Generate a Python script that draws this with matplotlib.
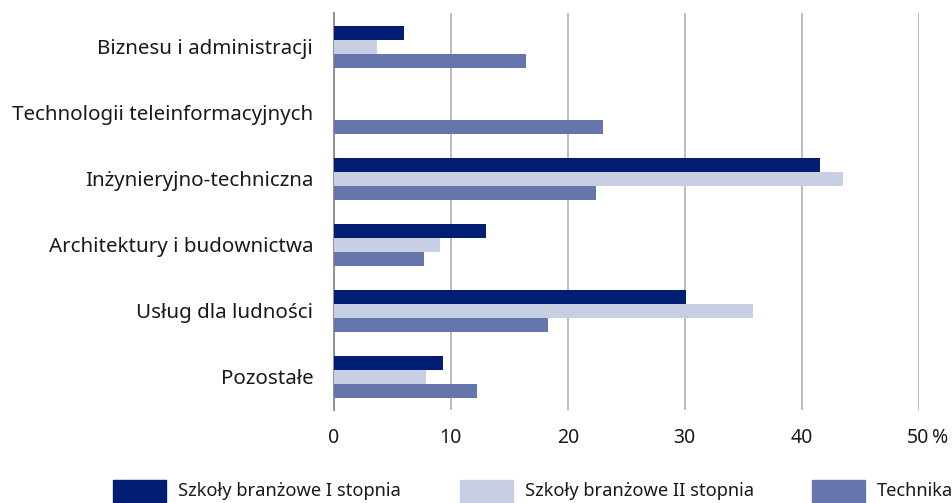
import numpy as np
from matplotlib import pyplot
from matplotlib.patches import Rectangle

pyplot.rcParams["font.family"] = ["Noto Sans", "DejaVu Sans"]

categories = [
    "Biznesu i administracji",
    "Technologii teleinformacyjnych",
    "Inżynieryjno-techniczna",
    "Architektury i budownictwa",
    "Usług dla ludności",
    "Pozostałe",
]
series_names = ["Szkoły branżowe I stopnia", "Szkoły branżowe II stopnia", "Technika"]
branzowe_1 = [6.0, 0.0, 41.6, 13.0, 30.1, 9.3]
branzowe_2 = [3.7, 0.0, 43.5, 9.1, 35.8, 7.9]
technika = [16.4, 23.0, 22.4, 7.7, 18.3, 12.2]
xticks = [0, 10, 20, 30, 40, 50]

colors = ["#021d74", "#c9cfe3", "#6676ad"]
text_color = "#1a1a1a"


def plot_chart():
    fig = pyplot.figure(figsize=(9.52, 5.03), dpi=100)
    ax = fig.add_axes([334 / 952, 93 / 503, 584.5 / 952, 397 / 503])

    y = np.arange(len(categories))
    h = 0.21
    for i, (vals, color) in enumerate(zip([branzowe_1, branzowe_2, technika], colors)):
        ax.barh(y + (i - 1) * h, vals, height=h, color=color, zorder=3)

    ax.set_ylim(5.5, -0.515)
    ax.set_xlim(0, 50)
    ax.set_yticks(y)
    ax.set_yticklabels(categories, fontsize=14.8, color=text_color)
    ax.set_xticks(xticks)
    ax.set_xticklabels([str(t) for t in xticks], fontsize=14, color=text_color)
    ax.annotate("%", xy=(50, 0), xycoords=("data", "axes fraction"),
                xytext=(9.5, -13), textcoords="offset points",
                ha="left", va="top", fontsize=14, color=text_color)
    ax.tick_params(axis="both", length=0)
    ax.tick_params(axis="y", pad=15)
    ax.tick_params(axis="x", pad=13)
    ax.grid(axis="x", color="#b8b8b8", linewidth=1.3, zorder=0)
    for side in ["top", "right", "bottom"]:
        ax.spines[side].set_visible(False)
    ax.spines["left"].set_color("#8a8a8a")
    ax.spines["left"].set_linewidth(1.3)

    # legend along the bottom
    legend_x = [113, 460, 812]
    for lx, name, color in zip(legend_x, series_names, colors):
        fig.patches.append(Rectangle((lx / 952, 0), 53 / 952, 23 / 503,
                                     transform=fig.transFigure, color=color))
        fig.text((lx + 65) / 952, 12 / 503, name, fontsize=13.2, color=text_color,
                 va="center", ha="left")

    fig.savefig("out.png", dpi=100)


if __name__ == "__main__":
    plot_chart()
